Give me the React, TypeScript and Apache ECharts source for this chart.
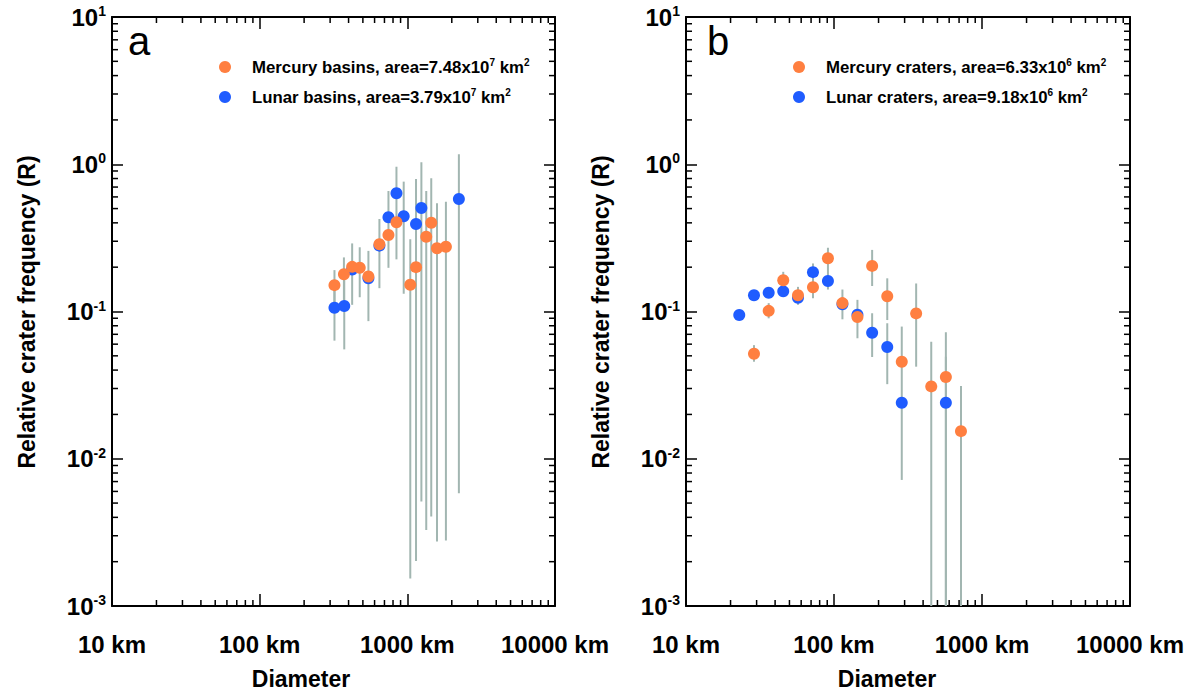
import React, { useEffect, useRef } from "react";
import * as echarts from "echarts";

// ---------- Panel a: basins ----------
const mercuryBasinD = [321, 372, 423, 476, 545, 647, 745, 844, 1047, 1145, 1343, 1452, 1588, 1825];
const mercuryBasinR = [0.151, 0.179, 0.201, 0.198, 0.173, 0.286, 0.331, 0.404, 0.152, 0.2, 0.322, 0.401, 0.269, 0.275];
const mercuryBasinLo = [0.105, 0.12, 0.111, 0.125, 0.086, 0.144, null, null, 0.00154, null, 0.00328, 0.00405, 0.00274, 0.00278];
const mercuryBasinHi = [0.191, 0.233, 0.29, 0.273, 0.258, 0.425, null, null, 0.309, null, 0.658, 0.802, 0.543, 0.557];

const lunarBasinD = [321, 374, 423, 545, 647, 745, 844, 945, 1145, 1245, 2234];
const lunarBasinR = [0.106, 0.109, 0.193, 0.168, 0.28, 0.437, 0.635, 0.443, 0.393, 0.505, 0.581];
const lunarBasinLo = [0.0634, 0.0553, null, null, null, 0.198, 0.226, 0.132, 0.00202, 0.00512, 0.00582];
const lunarBasinHi = [0.15, 0.17, null, null, null, 0.658, 0.962, 0.762, 0.794, 1.03, 1.17];

// ---------- Panel b: craters ----------
const mercuryCraterD = [28.8, 36.2, 45.4, 57.1, 72.1, 91.0, 114, 144, 181, 229, 287, 359, 454, 570, 721];
const mercuryCraterR = [0.0516, 0.101, 0.163, 0.129, 0.146, 0.23, 0.114, 0.0918, 0.204, 0.127, 0.0456, 0.0971, 0.031, 0.0359, 0.0154];
const mercuryCraterLo = [0.0456, 0.0899, 0.147, 0.111, null, 0.141, 0.0885, 0.0658, 0.149, 0.0875, null, 0.0422, 0.001, 0.001, 0.001];
const mercuryCraterHi = [0.0591, 0.114, 0.186, 0.147, null, 0.271, 0.141, 0.12, 0.262, 0.168, null, 0.155, 0.0624, 0.0723, 0.0312];

const lunarCraterD = [22.9, 28.8, 36.2, 45.4, 57.1, 72.1, 91.0, 114, 144, 181, 229, 287, 570];
const lunarCraterR = [0.0946, 0.129, 0.134, 0.137, 0.124, 0.185, 0.161, 0.112, 0.095, 0.0717, 0.0574, 0.024, 0.024];
const lunarCraterLo = [null, null, null, null, null, 0.123, null, null, null, 0.0491, 0.0321, 0.00718, 0.001];
const lunarCraterHi = [null, null, null, null, null, 0.212, null, null, null, 0.0973, 0.0832, 0.079, 0.0493];

// ---------- Axes ----------
const xDecades = [10, 100, 1000];
const yDecades = [0.001, 0.01, 0.1, 1];
const minorMultipliers = [2, 3, 4, 5, 6, 7, 8, 9];

const legendA = [
  { label: "Mercury basins, area=7.48x10", exp: "7" },
  { label: "Lunar basins, area=3.79x10", exp: "7" },
];
const legendB = [
  { label: "Mercury craters, area=6.33x10", exp: "6" },
  { label: "Lunar craters, area=9.18x10", exp: "6" },
];

const ORANGE = "#ff7f40";
const BLUE = "#1f5cff";
const ERR = "#a2b6b1";
const FONT = "'Liberation Sans', Arial, Helvetica, sans-serif";

const pairs = (xs: number[], ys: number[]) => xs.map((x, i) => [x, ys[i]]);
const errs = (xs: number[], lo: (number | null)[], hi: (number | null)[]) =>
  xs
    .map((x, i) => (lo[i] != null && hi[i] != null ? [x, lo[i], hi[i]] : null))
    .filter((d) => d !== null);

const minorTickData = () => {
  const d: number[][] = [];
  xDecades.forEach((dec) => minorMultipliers.forEach((m) => d.push([dec * m, 1, 0])));
  yDecades.forEach((dec) => minorMultipliers.forEach((m) => d.push([100, dec * m, 1])));
  return d;
};

export default function App() {
  const ref = useRef<HTMLDivElement>(null);
  useEffect(() => {
    if (!ref.current) return;
    const chart = echarts.init(ref.current, undefined, { renderer: "svg" });

    const grids = [
      { left: 112, top: 17, width: 443, height: 589 },
      { left: 686, top: 17, width: 444, height: 589 },
    ];

    const xAxisBase = (gi: number, pos: "bottom" | "top") => ({
      type: "log",
      logBase: 10,
      gridIndex: gi,
      position: pos,
      min: 10,
      max: 10000,
      splitLine: { show: false },
      axisLine: { show: true, onZero: false, lineStyle: { color: "#000", width: 2 } },
      axisTick: { show: true, inside: true, length: 12, lineStyle: { color: "#000", width: 1.5 } },
      axisLabel: {
        show: pos === "bottom",
        margin: 26,
        color: "#000",
        fontFamily: FONT,
        fontWeight: "bold",
        fontSize: 24,
        formatter: (v: number) => `${Math.round(v)} km`,
        showMinLabel: true,
        showMaxLabel: true,
      },
    });

    const yAxisBase = (gi: number, pos: "left" | "right") => ({
      type: "log",
      logBase: 10,
      gridIndex: gi,
      position: pos,
      min: 0.001,
      max: 10,
      splitLine: { show: false },
      axisLine: { show: true, onZero: false, lineStyle: { color: "#000", width: 2 } },
      axisTick: { show: true, inside: true, length: 11, lineStyle: { color: "#000", width: 1.5 } },
      axisLabel: {
        show: pos === "left",
        margin: 6,
        color: "#000",
        showMinLabel: true,
        showMaxLabel: true,
        formatter: (v: number) => `{b|10}{s|${Math.round(Math.log10(v))}}`,
        rich: {
          b: { fontFamily: FONT, fontWeight: "bold", fontSize: 24, lineHeight: 26, color: "#000" },
          s: { fontFamily: FONT, fontWeight: "bold", fontSize: 14, lineHeight: 14, color: "#000", verticalAlign: "top" },
        },
      },
    });

    const tickRender = (params: any, api: any) => {
      const cs = params.coordSys;
      const kind = api.value(2);
      const len = 6;
      const st = { stroke: "#000", lineWidth: 1.5 };
      if (kind === 0) {
        const px = api.coord([api.value(0), 1])[0];
        return {
          type: "group",
          children: [
            { type: "line", shape: { x1: px, y1: cs.y + cs.height, x2: px, y2: cs.y + cs.height - len }, style: st },
            { type: "line", shape: { x1: px, y1: cs.y, x2: px, y2: cs.y + len }, style: st },
          ],
        };
      }
      const py = api.coord([100, api.value(1)])[1];
      return {
        type: "group",
        children: [
          { type: "line", shape: { x1: cs.x, y1: py, x2: cs.x + len, y2: py }, style: st },
          { type: "line", shape: { x1: cs.x + cs.width, y1: py, x2: cs.x + cs.width - len, y2: py }, style: st },
        ],
      };
    };

    const errRender = (params: any, api: any) => {
      const p1 = api.coord([api.value(0), api.value(1)]);
      const p2 = api.coord([api.value(0), api.value(2)]);
      return {
        type: "line",
        shape: { x1: p1[0], y1: p1[1], x2: p2[0], y2: p2[1] },
        style: { stroke: ERR, lineWidth: 2 },
      };
    };

    const panelSeries = (
      xi: number,
      mD: number[], mR: number[], mLo: any[], mHi: any[],
      lD: number[], lR: number[], lLo: any[], lHi: any[]
    ) => [
      {
        type: "custom",
        xAxisIndex: xi,
        yAxisIndex: xi,
        renderItem: tickRender,
        data: minorTickData(),
        encode: { x: 0, y: 1 },
        silent: true,
        z: 1,
      },
      {
        type: "custom",
        xAxisIndex: xi,
        yAxisIndex: xi,
        renderItem: errRender,
        data: [...errs(lD, lLo, lHi), ...errs(mD, mLo, mHi)],
        encode: { x: 0, y: [1, 2] },
        silent: true,
        z: 2,
      },
      {
        type: "scatter",
        xAxisIndex: xi,
        yAxisIndex: xi,
        data: pairs(lD, lR),
        symbol: "circle",
        symbolSize: 12,
        itemStyle: { color: BLUE, opacity: 1 },
        z: 3,
      },
      {
        type: "scatter",
        xAxisIndex: xi,
        yAxisIndex: xi,
        data: pairs(mD, mR),
        symbol: "circle",
        symbolSize: 12,
        itemStyle: { color: ORANGE, opacity: 1 },
        z: 4,
      },
    ];

    const legendGraphics = (items: { label: string; exp: string }[], dotX: number, textX: number) =>
      items.flatMap((it, i) => {
        const y = 67 + i * 30;
        return [
          { type: "circle", shape: { cx: dotX, cy: y, r: 6 }, style: { fill: i === 0 ? ORANGE : BLUE } },
          {
            type: "text",
            x: textX,
            y: y,
            style: {
              text: `{t|${it.label}}{s|${it.exp}}{t| km}{s|2}`,
              verticalAlign: "middle",
              rich: {
                t: { fontFamily: FONT, fontWeight: "bold", fontSize: 16.8, lineHeight: 20, fill: "#000" },
                s: { fontFamily: FONT, fontWeight: "bold", fontSize: 10, lineHeight: 10, fill: "#000", verticalAlign: "top" },
              },
            },
          },
        ];
      });

    const textEl = (text: string, x: number, y: number, size: number, extra: any = {}) => ({
      type: "text",
      x,
      y,
      ...extra,
      style: {
        text,
        fontFamily: FONT,
        fontWeight: extra.weight || "bold",
        fontSize: size,
        fill: "#000",
        align: "center",
        verticalAlign: "middle",
      },
    });

    chart.setOption({
      animation: false,
      backgroundColor: "#fff",
      grid: grids,
      xAxis: [xAxisBase(0, "bottom"), xAxisBase(0, "top"), xAxisBase(1, "bottom"), xAxisBase(1, "top")],
      yAxis: [yAxisBase(0, "left"), yAxisBase(0, "right"), yAxisBase(1, "left"), yAxisBase(1, "right")],
      series: [
        ...panelSeries(0, mercuryBasinD, mercuryBasinR, mercuryBasinLo, mercuryBasinHi, lunarBasinD, lunarBasinR, lunarBasinLo, lunarBasinHi),
        ...panelSeries(2, mercuryCraterD, mercuryCraterR, mercuryCraterLo, mercuryCraterHi, lunarCraterD, lunarCraterR, lunarCraterLo, lunarCraterHi),
      ],
      graphic: [
        ...legendGraphics(legendA, 225, 252),
        ...legendGraphics(legendB, 799, 826),
        textEl("a", 139, 41, 40, { weight: "normal" }),
        textEl("b", 718, 41, 40, { weight: "normal" }),
        textEl("Diameter", 301, 679, 23),
        textEl("Diameter", 887, 679, 23),
        textEl("Relative crater frequency (R)", 27, 312, 23, { rotation: Math.PI / 2 }),
        textEl("Relative crater frequency (R)", 601, 312, 23, { rotation: Math.PI / 2 }),
      ],
    });

    return () => chart.dispose();
  }, []);

  return (
    <div
      ref={ref}
      style={{ position: "fixed", left: 0, top: 0, width: 1194, height: 694, background: "#fff" }}
    />
  );
}
